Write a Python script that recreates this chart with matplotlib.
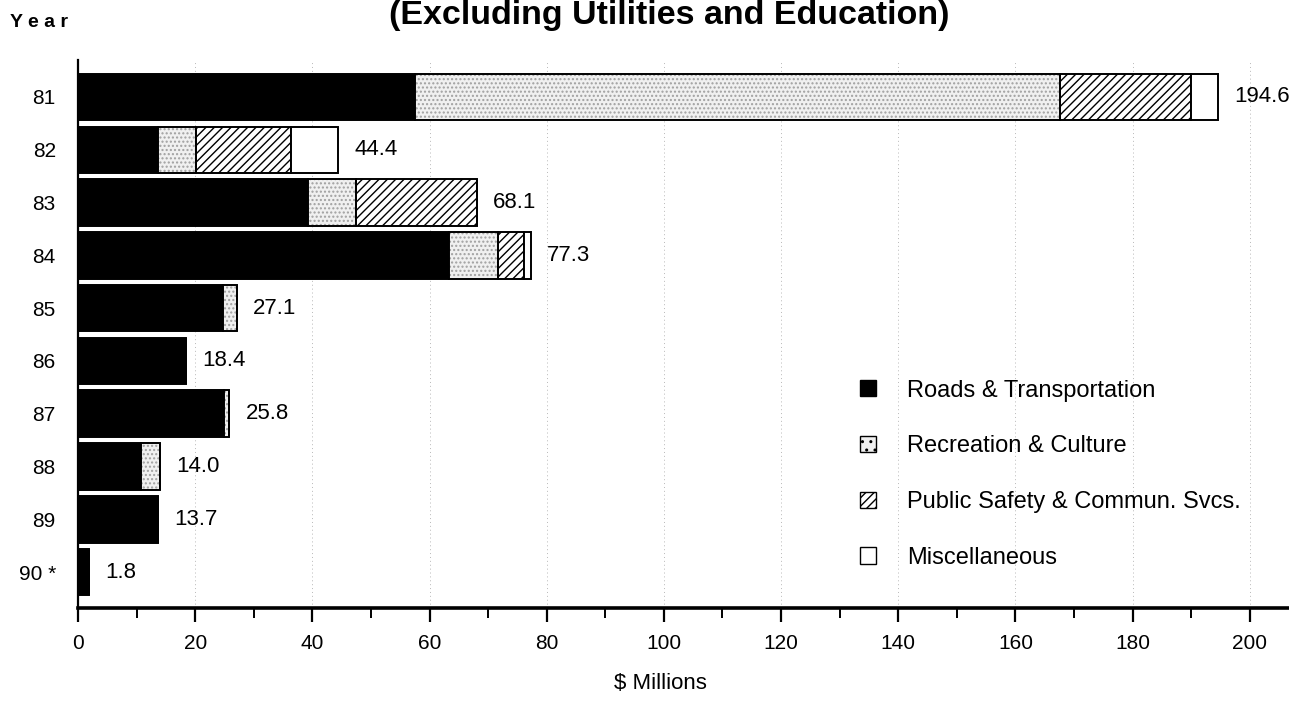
import matplotlib
matplotlib.use("Agg")
import matplotlib.pyplot as plt
from matplotlib.patches import Patch

plt.rcParams['font.family'] = ['Liberation Sans', 'DejaVu Sans']

years = ["81", "82", "83", "84", "85", "86", "87", "88", "89", "90 *"]
roads = [57.6, 13.6, 39.2, 63.4, 24.7, 18.4, 25.0, 10.7, 13.7, 1.8]
recreation = [110.0, 6.6, 8.3, 8.3, 2.4, 0.0, 0.8, 3.3, 0.0, 0.0]
public_safety = [22.3, 16.2, 20.6, 4.5, 0.0, 0.0, 0.0, 0.0, 0.0, 0.0]
misc = [4.7, 8.0, 0.0, 1.1, 0.0, 0.0, 0.0, 0.0, 0.0, 0.0]
totals = [194.6, 44.4, 68.1, 77.3, 27.1, 18.4, 25.8, 14.0, 13.7, 1.8]
categories = ["Roads & Transportation", "Recreation & Culture",
              "Public Safety & Commun. Svcs.", "Miscellaneous"]
x_ticks = [0, 20, 40, 60, 80, 100, 120, 140, 160, 180, 200]

fig = plt.figure(figsize=(12.89, 7.01), dpi=100)
ax = fig.add_axes([0.0605, 0.1327, 0.9395, 0.7817])

ypos = list(range(len(years)))
h = 0.88

# faint dotted grid
for t in x_ticks[1:]:
    ax.axvline(t, color='#b8b8b8', lw=0.7, ls=(0, (1, 3)), zorder=0)

left = [0.0] * len(years)
# Roads: solid black
ax.barh(ypos, roads, left=left, height=h, color='black', edgecolor='black', lw=1.4, zorder=2)
left = [l + v for l, v in zip(left, roads)]
# Recreation: stippled light gray
ax.barh(ypos, recreation, left=left, height=h, color='#f0f0f0', edgecolor='#a0a0a0',
        hatch='....', lw=0, zorder=2)
ax.barh(ypos, recreation, left=left, height=h, fill=False, edgecolor='black', lw=1.4, zorder=3)
left = [l + v for l, v in zip(left, recreation)]
# Public safety: diagonal hatch
ax.barh(ypos, public_safety, left=left, height=h, color='white', edgecolor='black',
        hatch='////', lw=1.4, zorder=2)
left = [l + v for l, v in zip(left, public_safety)]
# Miscellaneous: white
ax.barh(ypos, misc, left=left, height=h, color='white', edgecolor='black', lw=1.4, zorder=2)

for y, tot in zip(ypos, totals):
    ax.text(tot + 2.8, y, f"{tot:.1f}", va='center', ha='left', fontsize=16, clip_on=False)

ax.set_xlim(0, 206.7)
ax.set_ylim(9.68, -0.7)
ax.set_yticks(ypos)
ax.set_yticklabels(years, fontsize=15)
ax.set_xticks(x_ticks)
ax.set_xticklabels([str(t) for t in x_ticks], fontsize=15)
ax.set_xticks(range(10, 210, 20), minor=True)
ax.tick_params(axis='x', which='major', direction='out', length=10, width=1.6, pad=9)
ax.tick_params(axis='x', which='minor', direction='out', length=7, width=1.4)
ax.tick_params(axis='y', length=0, pad=16)
for s in ('top', 'right'):
    ax.spines[s].set_visible(False)
ax.spines['left'].set_linewidth(1.6)
ax.spines['bottom'].set_linewidth(2.6)

fig.text(0.512, 0.025, "$ Millions", ha='center', va='center', fontsize=16)

handles = [
    Patch(facecolor='black', edgecolor='black'),
    Patch(facecolor='#f0f0f0', edgecolor='black', hatch='..'),
    Patch(facecolor='white', edgecolor='black', hatch='////'),
    Patch(facecolor='white', edgecolor='black'),
]
fig.legend(handles, categories, loc='upper left', bbox_to_anchor=(0.660, 0.472),
           frameon=False, fontsize=17, handlelength=0.68, handleheight=0.68,
           labelspacing=1.43, handletextpad=1.3, borderaxespad=0)

fig.text(0.519, 0.966, "(Excluding Utilities and Education)", ha='center', va='baseline',
         fontsize=24.5, fontweight='bold')
fig.text(0.008, 0.9615, "Y e a r", ha='left', va='baseline', fontsize=14, fontweight='bold')

fig.savefig("out.png", dpi=100)
